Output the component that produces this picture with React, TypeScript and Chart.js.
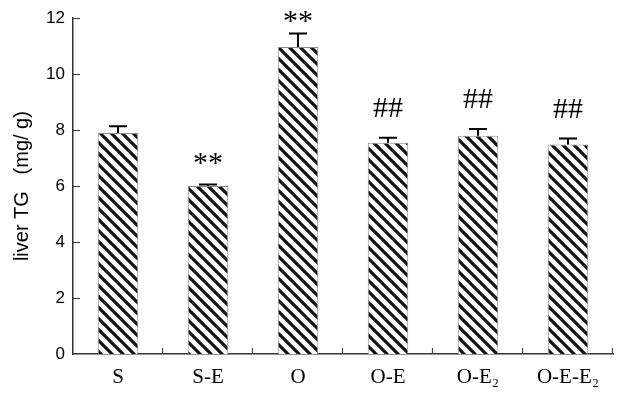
import React, { useEffect, useRef } from "react";
import { Chart, registerables } from "chart.js";

Chart.register(...registerables);

const categories = ["S", "S-E", "O", "O-E", "O-E₂", "O-E-E₂"];
const values = [7.9, 6.0, 10.97, 7.55, 7.8, 7.49];
const errors = [0.24, 0.06, 0.48, 0.18, 0.24, 0.21];
const marks = ["", "**", "**", "##", "##", "##"];
const yTicks = [0, 2, 4, 6, 8, 10, 12];

function makePattern(): CanvasPattern | string {
  const n = 11;
  const c = document.createElement("canvas");
  c.width = n;
  c.height = n;
  const g = c.getContext("2d");
  if (!g) return "#fff";
  g.fillStyle = "#fff";
  g.fillRect(0, 0, n, n);
  g.strokeStyle = "#111";
  g.lineWidth = 3.1;
  g.beginPath();
  g.moveTo(-n, -n);
  g.lineTo(2 * n, 2 * n);
  g.moveTo(-n, 0);
  g.lineTo(n, 2 * n);
  g.moveTo(0, -n);
  g.lineTo(2 * n, n);
  g.stroke();
  const p = g.createPattern(c, "repeat");
  return p || "#fff";
}

const extrasPlugin = {
  id: "extras",
  afterDatasetsDraw(chart: any) {
    const ctx = chart.ctx;
    const x = chart.scales.x;
    const y = chart.scales.y;
    const meta = chart.getDatasetMeta(0);
    ctx.save();
    // error bars
    ctx.strokeStyle = "#000";
    ctx.lineWidth = 2;
    meta.data.forEach((bar: any, i: number) => {
      const top = y.getPixelForValue(values[i]);
      const et = y.getPixelForValue(values[i] + errors[i]);
      ctx.beginPath();
      ctx.moveTo(bar.x, top);
      ctx.lineTo(bar.x, et);
      ctx.moveTo(bar.x - 9, et);
      ctx.lineTo(bar.x + 9, et);
      ctx.stroke();
    });
    // inward ticks
    ctx.strokeStyle = "#444";
    ctx.lineWidth = 1.2;
    const left = chart.chartArea.left;
    const bottom = chart.chartArea.bottom;
    yTicks.forEach((t) => {
      if (t === 0) return;
      const py = Math.round(y.getPixelForValue(t)) + 0.5;
      ctx.beginPath();
      ctx.moveTo(left, py);
      ctx.lineTo(left + 7, py);
      ctx.stroke();
    });
    const step = (x.right - x.left) / categories.length;
    for (let i = 1; i <= categories.length; i++) {
      const px = Math.round(x.left + step * i) - 0.5;
      ctx.beginPath();
      ctx.moveTo(px, bottom);
      ctx.lineTo(px, bottom - 6);
      ctx.stroke();
    }
    // significance marks
    ctx.fillStyle = "#000";
    ctx.textAlign = "center";
    ctx.textBaseline = "alphabetic";
    ctx.font = "30px 'Liberation Serif', serif";
    meta.data.forEach((bar: any, i: number) => {
      const m = marks[i];
      if (!m) return;
      const et = y.getPixelForValue(values[i] + errors[i]);
      const off = m === "**" ? 12 : 21;
      const by = Math.max(et - off, chart.chartArea.top + 12);
      ctx.fillText(m, bar.x, by);
    });
    ctx.restore();
  },
};

export default function App() {
  const ref = useRef<HTMLCanvasElement | null>(null);
  useEffect(() => {
    if (!ref.current) return;
    const pattern = makePattern();
    const chart = new Chart(ref.current, {
      type: "bar",
      data: {
        labels: categories,
        datasets: [
          {
            data: values,
            backgroundColor: pattern as any,
            borderColor: "#8a8a8a",
            borderWidth: 1,
            barPercentage: 0.45,
            categoryPercentage: 1,
          },
        ],
      },
      options: {
        animation: false,
        responsive: false,
        events: [],
        layout: { padding: { left: 0, right: 4, top: 18, bottom: 0 } },
        plugins: {
          legend: { display: false },
          tooltip: { enabled: false },
        },
        scales: {
          x: {
            offset: true,
            grid: { display: false, drawTicks: false },
            border: { display: true, color: "#333", width: 1.5 },
            ticks: {
              color: "#000",
              font: { family: "'Liberation Serif', serif", size: 21 },
              padding: 11,
              maxRotation: 0,
              autoSkip: false,
            },
            afterFit: (s: any) => {
              s.height = 39;
            },
          },
          y: {
            min: 0,
            max: 12,
            afterBuildTicks: (s: any) => {
              s.ticks = yTicks.map((v) => ({ value: v }));
            },
            grid: { display: false, drawTicks: false },
            border: { display: true, color: "#333", width: 1.5 },
            ticks: {
              color: "#000",
              font: { family: "'Liberation Sans', Arial, sans-serif", size: 17 },
              padding: 8,
            },
            title: {
              display: true,
              text: "liver TG   (mg/ g)",
              color: "#000",
              font: { family: "'Liberation Sans', Arial, sans-serif", size: 20 },
              padding: { top: 10, bottom: 0 },
            },
            afterFit: (s: any) => {
              s.width = 73;
            },
          },
        },
      },
      plugins: [extrasPlugin],
    });
    return () => chart.destroy();
  }, []);
  return (
    <div style={{ position: "fixed", left: 0, top: 0, width: 617, height: 393, background: "#fff" }}>
      <canvas ref={ref} width={617} height={393} />
    </div>
  );
}
